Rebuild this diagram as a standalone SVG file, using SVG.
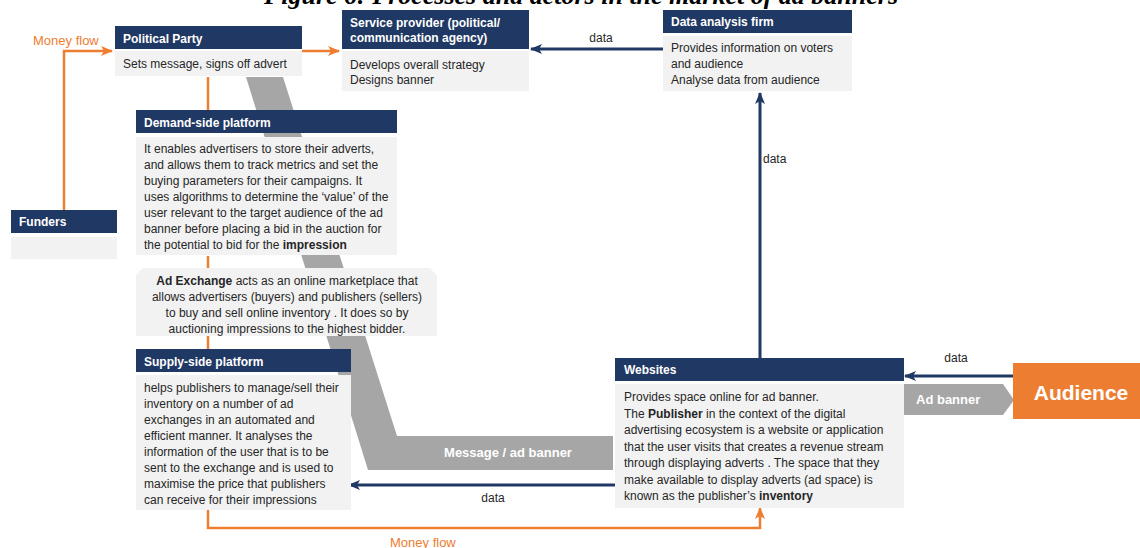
<svg xmlns="http://www.w3.org/2000/svg" width="1140" height="548" viewBox="0 0 1140 548">
<style>
.hd{fill:#203864}
.bd{fill:#F2F2F2}
.ht{font-family:"Liberation Sans",Arial,sans-serif;font-size:12px;font-weight:bold;fill:#FFFFFF}
.bt{font-family:"Liberation Sans",Arial,sans-serif;font-size:12px;fill:#262626}
.b{font-weight:bold}
.lbl{font-family:"Liberation Sans",Arial,sans-serif;font-size:12px;fill:#262626}
.mf{font-family:"Liberation Sans",Arial,sans-serif;font-size:13px;fill:#ED7D31}
.nv{stroke:#203864;stroke-width:3;fill:none}
.or{stroke:#ED7D31;stroke-width:2.5;fill:none}
.gr{fill:#A6A6A6}
.gt{font-family:"Liberation Sans",Arial,sans-serif;font-size:13px;font-weight:bold;fill:#FFFFFF}
</style>
<defs>
<marker id="an" markerUnits="userSpaceOnUse" markerWidth="12" markerHeight="12" viewBox="0 0 12 12" refX="11" refY="6" orient="auto">
<path d="M0,1 L12,6 L0,11 L3,6 Z" fill="#203864"/>
</marker>
<marker id="ao" markerUnits="userSpaceOnUse" markerWidth="12" markerHeight="12" viewBox="0 0 12 12" refX="11" refY="6" orient="auto">
<path d="M0,1 L12,6 L0,11 L3,6 Z" fill="#ED7D31"/>
</marker>
</defs>
<rect width="1140" height="548" fill="#FFFFFF"/>
<text x="581" y="4" text-anchor="middle" font-family="'Liberation Serif','Times New Roman',serif" font-size="26" font-weight="bold" font-style="italic" fill="#000">Figure 6: Processes and actors in the market of ad banners</text>

<g id="message-band">
<polygon class="gr" points="246,77 283,77 397,436 613,436 613,470 368,470"/>
<text class="gt" x="508" y="456.5" text-anchor="middle">Message / ad banner</text>
</g>

<g id="connectors">
<polyline class="or" points="64,210 64,51 112,51" marker-end="url(#ao)"/>
<line class="or" x1="302" y1="51" x2="339" y2="51" marker-end="url(#ao)"/>
<line class="or" x1="208" y1="77" x2="208" y2="110"/>
<line class="or" x1="208" y1="256" x2="208" y2="268"/>
<line class="or" x1="208" y1="336" x2="208" y2="349"/>
<polyline class="or" points="208,510 208,528 760,528 760,508" marker-end="url(#ao)"/>
<line class="nv" x1="663" y1="49" x2="531" y2="49" marker-end="url(#an)"/>
<line class="nv" x1="760" y1="358" x2="760" y2="93" marker-end="url(#an)"/>
<line class="nv" x1="1013" y1="376" x2="905" y2="376" marker-end="url(#an)"/>
<line class="nv" x1="615" y1="485" x2="349" y2="485" marker-end="url(#an)"/>
<text class="mf" x="33" y="44.5">Money flow</text>
<text class="mf" x="390" y="547">Money flow</text>
<text class="lbl" x="601" y="42" text-anchor="middle">data</text>
<text class="lbl" x="763" y="163">data</text>
<text class="lbl" x="956" y="362" text-anchor="middle">data</text>
<text class="lbl" x="493" y="502" text-anchor="middle">data</text>
<polygon class="gr" points="904,384 1003,384 1014,400 1003,415 904,415"/>
<text class="gt" x="916" y="403.5">Ad banner</text>
</g>

<g id="political-party">
<rect class="hd" x="115" y="26" width="187" height="23"/>
<rect class="bd" x="115" y="51" width="187" height="25"/>
<text class="ht" x="123" y="42.5">Political Party</text>
<text class="bt" x="123" y="67.5">Sets message, signs off advert</text>
</g>

<g id="service-provider">
<rect class="hd" x="342" y="10" width="187" height="39"/>
<rect class="bd" x="342" y="51" width="187" height="40"/>
<text class="ht" x="350" y="27">Service provider (political/</text>
<text class="ht" x="350" y="42">communication agency)</text>
<text class="bt" x="350" y="68.5">Develops overall strategy</text>
<text class="bt" x="350" y="83.5">Designs banner</text>
</g>

<g id="data-analysis-firm">
<rect class="hd" x="663" y="10" width="189" height="23"/>
<rect class="bd" x="663" y="36" width="189" height="55"/>
<text class="ht" x="671" y="26">Data analysis firm</text>
<text class="bt" x="671" y="52">Provides information on voters</text>
<text class="bt" x="671" y="67.5">and audience</text>
<text class="bt" x="671" y="83.5">Analyse data from audience</text>
</g>

<g id="funders">
<rect class="hd" x="11" y="210" width="106" height="23"/>
<rect class="bd" x="11" y="237" width="106" height="22"/>
<text class="ht" x="19" y="226">Funders</text>
</g>

<g id="demand-side-platform">
<rect class="hd" x="136" y="110" width="261" height="23"/>
<rect class="bd" x="136" y="137" width="261" height="118"/>
<text class="ht" x="144" y="127">Demand-side platform</text>
<text class="bt" x="144" y="153">It enables advertisers to store their adverts,</text>
<text class="bt" x="144" y="168.5">and allows them to track metrics and set the</text>
<text class="bt" x="144" y="184.5">buying parameters for their campaigns. It</text>
<text class="bt" x="144" y="200.5">uses algorithms to determine the ‘value’ of the</text>
<text class="bt" x="144" y="216.5">user relevant to the target audience of the ad</text>
<text class="bt" x="144" y="232.5">banner before placing a bid in the auction for</text>
<text class="bt" x="144" y="248.5">the potential to bid for the <tspan class="b">impression</tspan></text>
</g>

<g id="ad-exchange">
<polygon class="bd" points="143,268 430,268 437,276 437,336 136,336 136,275"/>
<text class="bt" x="287" y="285" text-anchor="middle"><tspan class="b">Ad Exchange</tspan> acts as an online marketplace that</text>
<text class="bt" x="287" y="301" text-anchor="middle">allows advertisers (buyers) and publishers (sellers)</text>
<text class="bt" x="287" y="317" text-anchor="middle">to buy and sell online inventory . It does so by</text>
<text class="bt" x="287" y="333" text-anchor="middle">auctioning impressions to the highest bidder.</text>
</g>

<g id="supply-side-platform">
<rect class="hd" x="136" y="349" width="215" height="23"/>
<rect class="bd" x="136" y="375" width="215" height="135"/>
<text class="ht" x="144" y="366">Supply-side platform</text>
<text class="bt" x="144" y="392">helps publishers to manage/sell their</text>
<text class="bt" x="144" y="408">inventory on a number  of ad</text>
<text class="bt" x="144" y="424">exchanges in an automated and</text>
<text class="bt" x="144" y="440">efficient manner. It analyses the</text>
<text class="bt" x="144" y="456">information of the user that is to be</text>
<text class="bt" x="144" y="472">sent to the exchange and is used to</text>
<text class="bt" x="144" y="487.5">maximise the price that publishers</text>
<text class="bt" x="144" y="503.5">can receive for their impressions</text>
</g>

<g id="websites">
<rect class="hd" x="615" y="358" width="289" height="23"/>
<rect class="bd" x="615" y="384" width="289" height="124"/>
<text class="ht" x="624" y="374">Websites</text>
<text class="bt" x="624" y="401">Provides space online for ad banner.</text>
<text class="bt" x="624" y="417.5">The <tspan class="b">Publisher</tspan> in the context of the digital</text>
<text class="bt" x="624" y="434">advertising ecosystem is a website or application</text>
<text class="bt" x="624" y="450.5">that the user visits that creates a revenue stream</text>
<text class="bt" x="624" y="467">through displaying adverts . The space that they</text>
<text class="bt" x="624" y="483.5">make available to display adverts (ad space) is</text>
<text class="bt" x="624" y="499.5">known as the publisher’s <tspan class="b">inventory</tspan></text>
</g>

<g id="audience">
<rect x="1013" y="363" width="127" height="56" fill="#ED7D31"/>
<text x="1081" y="399.5" text-anchor="middle" font-family="'Liberation Sans',Arial,sans-serif" font-size="21" font-weight="bold" fill="#FFFFFF">Audience</text>
</g>
</svg>
